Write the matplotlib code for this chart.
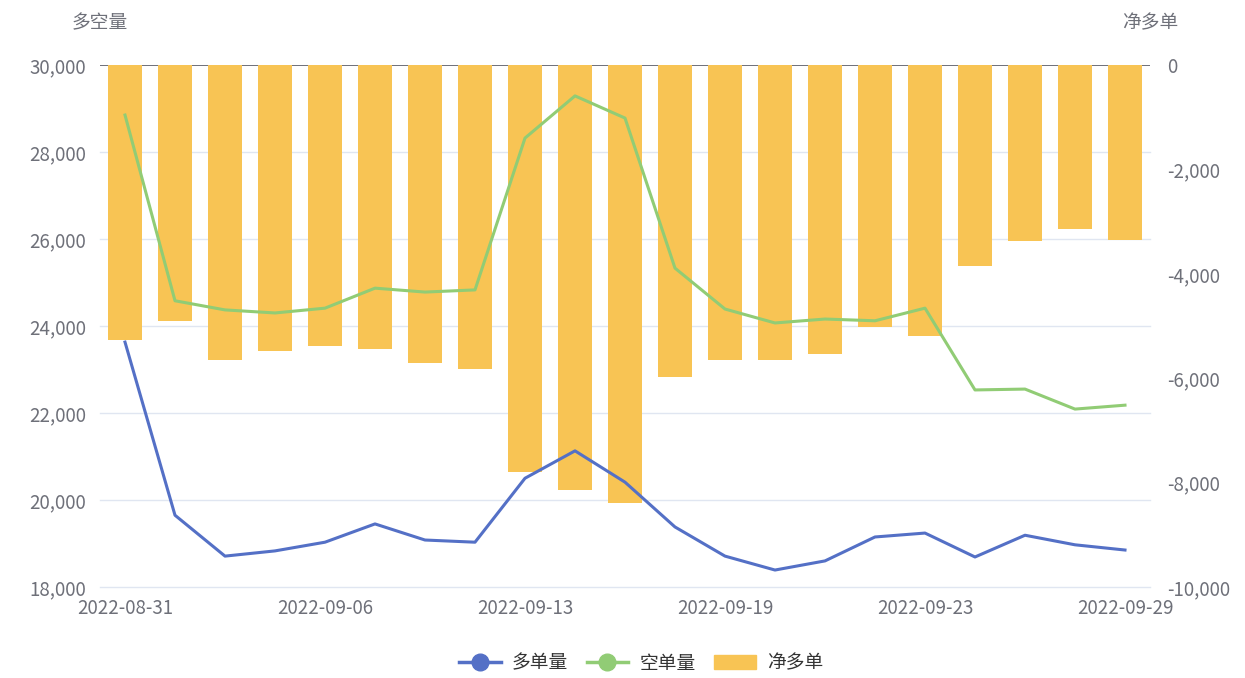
import numpy as np
import matplotlib.pyplot as plt
from matplotlib.lines import Line2D
from matplotlib.patches import FancyBboxPatch

plt.rcParams['font.family'] = ['Noto Sans CJK SC', 'DejaVu Sans']

dates = ['2022-08-31', '2022-09-01', '2022-09-02', '2022-09-05', '2022-09-06',
         '2022-09-07', '2022-09-08', '2022-09-09', '2022-09-13', '2022-09-14',
         '2022-09-15', '2022-09-16', '2022-09-19', '2022-09-20', '2022-09-21',
         '2022-09-22', '2022-09-23', '2022-09-26', '2022-09-27', '2022-09-28',
         '2022-09-29']
long_qty = [23630, 19650, 18710, 18830, 19030, 19450, 19080, 19030, 20500, 21130,
            20410, 19380, 18710, 18390, 18600, 19150, 19240, 18690, 19190, 18970,
            18850]
short_qty = [28850, 24580, 24370, 24300, 24410, 24870, 24780, 24830, 28320, 29290,
             28780, 25330, 24390, 24070, 24160, 24120, 24410, 22530, 22550, 22090,
             22180]
net_long = [-5270, -4900, -5650, -5480, -5380, -5440, -5710, -5820, -7800, -8140,
            -8390, -5980, -5650, -5650, -5540, -5020, -5190, -3850, -3370, -3140,
            -3350]

c_blue = '#5470c6'
c_green = '#91cc75'
c_bar = '#f8c454'
c_text = '#6e7079'
c_grid = '#e0e6f1'
fs = 13.5

fig = plt.figure(figsize=(12.45, 6.78), dpi=100)
W, H = 1245, 678
ax = fig.add_axes([100 / W, 1 - 587 / H, 1050 / W, 522 / H])
ax2 = ax.twinx()

x = np.arange(len(dates))

# bars on right axis
ax2.bar(x, net_long, width=0.68, color=c_bar, zorder=2)
ax2.set_ylim(-10000, 0)
ax2.axhline(0, color='#6e7079', lw=1.4, zorder=1)

# lines on left axis, drawn on top of bars
ax.set_zorder(ax2.get_zorder() + 1)
ax.patch.set_visible(False)
ax.plot(x, long_qty, color=c_blue, lw=2.2, zorder=3)
ax.plot(x, short_qty, color=c_green, lw=2.2, zorder=3)
ax.set_ylim(18000, 30000)
ax.set_xlim(-0.5, len(dates) - 0.5)
ax.set_yticks(np.arange(18000, 30001, 2000))
ax.set_yticklabels([f'{v:,}' for v in range(18000, 30001, 2000)])
ax2.set_yticks(np.arange(-10000, 1, 2000))
ax2.set_yticklabels([f'{v:,}' for v in range(-10000, 1, 2000)])

for yv in range(18000, 30000, 2000):
    ax2.axhline((yv - 30000) / 12000 * 10000, color=c_grid, lw=1, zorder=0,
                clip_on=False)

ax.set_xticks(x[::4])
ax.set_xticklabels([dates[i] for i in x[::4]])

for a in (ax, ax2):
    for s in a.spines.values():
        s.set_visible(False)
    a.tick_params(length=0, colors=c_text, labelsize=fs)
ax.tick_params(axis='y', pad=10)
ax2.tick_params(axis='y', pad=12)
ax.tick_params(axis='x', pad=8)

fig.text(100 / W, 1 - 23 / H, '多空量', ha='center', va='center', color=c_text, fontsize=fs)
fig.text(1150 / W, 1 - 23 / H, '净多单', ha='center', va='center', color=c_text, fontsize=fs)

h1 = Line2D([], [], color=c_blue, lw=2.5, marker='o', markersize=12)
h2 = Line2D([], [], color=c_green, lw=2.5, marker='o', markersize=12)
h3 = FancyBboxPatch((0, 0), 1, 1, boxstyle='round,pad=0,rounding_size=0.2', color=c_bar)
fig.legend([h1, h2, h3], ['多单量', '空单量', '净多单'], loc='center',
           bbox_to_anchor=(0.515, 1 - 663 / H), ncol=3, frameon=False,
           fontsize=fs, labelcolor='#333333', handlelength=2.2,
           columnspacing=1.0, handletextpad=0.6)

fig.savefig('out.png', dpi=100)
